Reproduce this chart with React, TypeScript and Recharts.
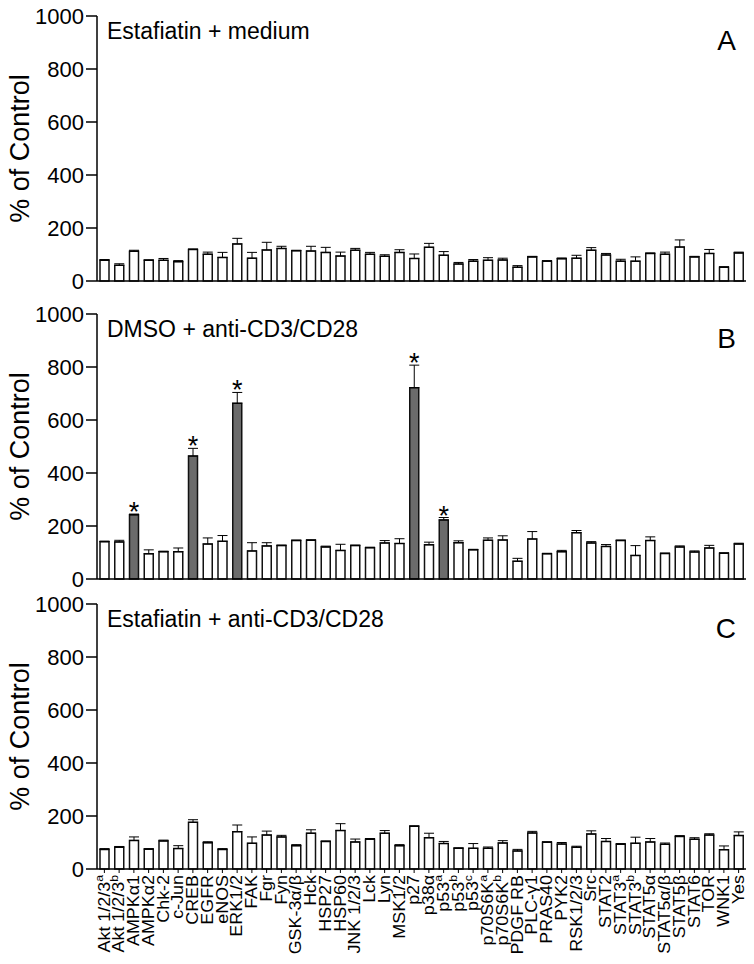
import React from 'react';
import { BarChart, Bar, XAxis, YAxis, ErrorBar, Cell, LabelList } from 'recharts';

// kinase / protein names along the x axis ("^" marks a superscript)
const categories = [
  'Akt 1/2/3^a', 'Akt 1/2/3^b', 'AMPKα1', 'AMPKα2', 'Chk-2', 'c-Jun', 'CREB', 'EGFR', 'eNOS', 'ERK1/2',
  'FAK', 'Fgr', 'Fyn', 'GSK-3α/β', 'Hck', 'HSP27', 'HSP60', 'JNK 1/2/3', 'Lck', 'Lyn', 'MSK1/2', 'p27',
  'p38α', 'p53^a', 'p53^b', 'p53^c', 'p70S6K^a', 'p70S6K^b', 'PDGF RB', 'PLC-γ1', 'PRAS40', 'PYK2',
  'RSK1/2/3', 'Src', 'STAT2', 'STAT3^a', 'STAT3^b', 'STAT5α', 'STAT5α/β', 'STAT5β', 'STAT6', 'TOR', 'WNK1', 'Yes',
];

const yTicks = [0, 200, 400, 600, 800, 1000];

// A: Estafiatin + medium
const aValues = [78, 59, 112, 78, 78, 73, 119, 101, 89, 140, 86, 117, 123, 114, 113, 108, 94, 116, 101, 93, 108, 85,
  127, 97, 64, 75, 78, 79, 52, 91, 75, 84, 86, 116, 98, 75, 75, 104, 101, 128, 91, 104, 52, 106];
const aErrors = [3, 6, 4, 2, 7, 4, 2, 8, 19, 21, 22, 29, 8, 2, 18, 19, 15, 7, 7, 6, 10, 17,
  15, 14, 6, 6, 10, 7, 6, 2, 2, 3, 11, 10, 6, 7, 16, 2, 8, 27, 2, 15, 2, 3];

// B: DMSO + anti-CD3/CD28
const bValues = [141, 140, 242, 95, 103, 103, 464, 132, 142, 663, 106, 125, 126, 145, 146, 121, 108, 126, 118, 136, 134, 722,
  129, 223, 137, 110, 146, 147, 67, 151, 95, 103, 175, 136, 123, 145, 89, 145, 96, 121, 102, 117, 97, 132];
const bErrors = [2, 6, 3, 15, 2, 14, 29, 23, 22, 41, 31, 12, 2, 2, 2, 3, 23, 2, 2, 9, 18, 85,
  10, 9, 7, 2, 9, 16, 11, 28, 2, 5, 8, 5, 7, 2, 37, 14, 2, 4, 4, 10, 2, 3];
const bSignificant = [2, 6, 9, 21, 23];

// C: Estafiatin + anti-CD3/CD28
const cValues = [74, 82, 108, 75, 106, 77, 176, 99, 74, 141, 97, 128, 121, 88, 135, 104, 145, 102, 112, 135, 88, 161,
  118, 96, 78, 78, 78, 98, 68, 136, 101, 94, 82, 132, 104, 93, 97, 102, 93, 123, 112, 128, 73, 126];
const cErrors = [3, 3, 13, 2, 3, 11, 10, 4, 3, 25, 24, 15, 6, 4, 13, 2, 26, 11, 3, 10, 4, 2,
  17, 8, 2, 18, 5, 9, 6, 6, 2, 6, 4, 12, 11, 3, 23, 13, 5, 3, 6, 5, 14, 14];

const FONT = '"Liberation Sans", Arial, Helvetica, sans-serif';
const PLOT_H = 265;

function CategoryTick({ x, y, payload }: any) {
  const [base, sup] = String(payload.value).split('^');
  return (
    <text
      x={0}
      y={0}
      transform={`translate(${x}, ${y}) rotate(-90) scale(1.12, 1)`}
      textAnchor="end"
      dominantBaseline="central"
      fontSize={16}
      fontFamily={FONT}
      fill="#000"
    >
      {base}
      {sup && <tspan dy={-6} fontSize={11}>{sup}</tspan>}
    </text>
  );
}

interface PanelProps {
  top: number;
  height: number;
  values: number[];
  errors: number[];
  significant?: number[];
  title: string;
  letter: string;
  showLabels?: boolean;
}

function Panel({ top, height, values, errors, significant = [], title, letter, showLabels }: PanelProps) {
  const data = categories.map((name, i) => ({ name, value: values[i], err: [0, errors[i]] }));
  const xHeight = height - 16 - PLOT_H;

  const StarLabel = (props: any) => {
    const { x, y, width, height: h, index, value } = props;
    if (!significant.includes(index)) return null;
    const errPx = errors[index] * (h / value);
    return (
      <text x={x + width / 2} y={y - errPx + 7} textAnchor="middle" fontSize={27} fontFamily={FONT} fill="#000">*</text>
    );
  };

  return (
    <div style={{ position: 'absolute', left: 0, top, width: 754, height }}>
      <BarChart width={754} height={height} data={data} margin={{ top: 16, right: 8, left: 0, bottom: 0 }} barSize={9}>
        <XAxis
          dataKey="name"
          interval={0}
          height={xHeight}
          axisLine={{ stroke: '#000', strokeWidth: 1.5 }}
          tickLine={{ stroke: '#000', strokeWidth: 1 }}
          tickSize={4}
          tickMargin={2}
          tick={showLabels ? <CategoryTick /> : false}
        />
        <XAxis xAxisId="top" dataKey="name" orientation="top" height={0} tick={false} tickLine={false}
          axisLine={{ stroke: '#000', strokeWidth: 1.5 }} />
        <YAxis
          domain={[0, 1000]}
          ticks={yTicks}
          width={97}
          interval={0}
          axisLine={{ stroke: '#000', strokeWidth: 1.5 }}
          tickLine={{ stroke: '#000', strokeWidth: 1.5 }}
          tickSize={11}
          tickMargin={2}
          tick={{ fill: '#000', fontSize: 22, fontFamily: FONT }}
          label={{ value: '% of Control', angle: -90, position: 'insideLeft', offset: 19,
            style: { textAnchor: 'middle', fontSize: 27, fontFamily: FONT, fill: '#000' } }}
        />
        <YAxis yAxisId="right" orientation="right" domain={[0, 1000]} width={0} tick={false} tickLine={false}
          axisLine={{ stroke: '#000', strokeWidth: 1.5 }} />
        <Bar dataKey="value" stroke="#111" strokeWidth={1.5} isAnimationActive={false}>
          {data.map((_, i) => (
            <Cell key={i} fill={significant.includes(i) ? '#6b6b6b' : '#fff'} />
          ))}
          <ErrorBar dataKey="err" width={5} stroke="#000" strokeWidth={1} direction="y" isAnimationActive={false} />
          {significant.length > 0 && <LabelList dataKey="value" content={StarLabel} />}
        </Bar>
      </BarChart>
      <div style={{ position: 'absolute', left: 107, top: 16 + 24 - 20, fontSize: 23, lineHeight: '23px', fontFamily: FONT, color: '#000', whiteSpace: 'nowrap' }}>
        {title}
      </div>
      <div style={{ position: 'absolute', right: 754 - 736, top: 16 + 36 - 25, fontSize: 28, lineHeight: '28px', fontFamily: FONT, color: '#000' }}>
        {letter}
      </div>
    </div>
  );
}

export default function App() {
  return (
    <div style={{ position: 'absolute', left: 0, top: 0, width: 754, height: 964, background: '#fff', overflow: 'hidden' }}>
      <Panel top={0} height={300} values={aValues} errors={aErrors} title="Estafiatin + medium" letter="A" />
      <Panel top={298} height={300} values={bValues} errors={bErrors} significant={bSignificant}
        title="DMSO + anti-CD3/CD28" letter="B" />
      <Panel top={588} height={376} values={cValues} errors={cErrors} title="Estafiatin + anti-CD3/CD28" letter="C" showLabels />
    </div>
  );
}
